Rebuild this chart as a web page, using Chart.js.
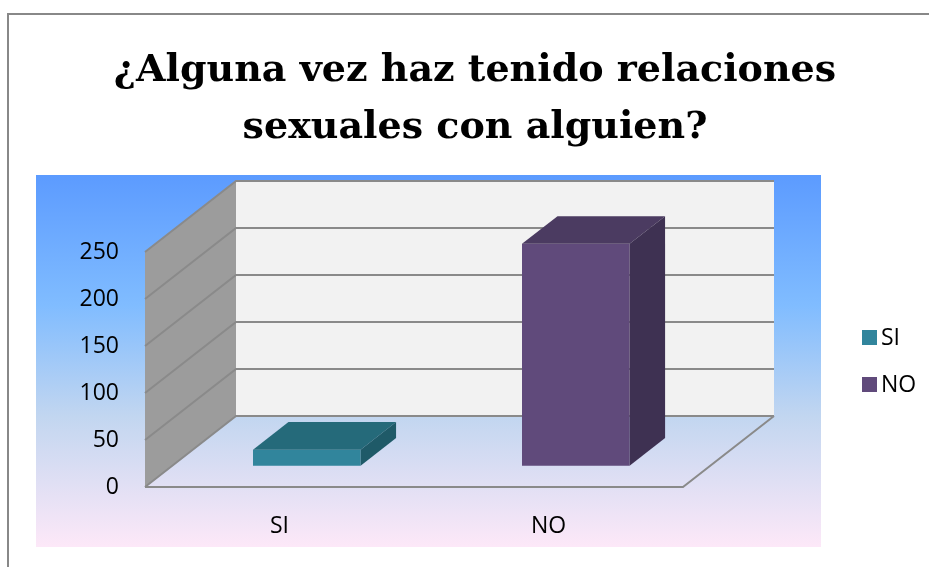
<!DOCTYPE html>
<html>
<head>
<meta charset="utf-8">
<script src="https://cdn.jsdelivr.net/npm/chart.js@4"></script>
<style>
  body { margin: 0; background: #fff; }
  canvas { display: block; }
</style>
</head>
<body>
<canvas id="chart" width="929" height="567"></canvas>
<script>
// data
const categories = ['SI', 'NO'];
const answers = [17, 236];
const yTicks = [0, 50, 100, 150, 200, 250];
const titleLines = ['¿Alguna vez haz tenido relaciones', 'sexuales con alguien?'];

const frontColors = ['#31859c', '#604a7b'];
const topColors = ['#256a7a', '#4b3b61'];
const sideColors = ['#1f5a68', '#3e3152'];

// 3d look: depth vector from front plane to back wall
const depth = { x: 91, y: -71 };
const barFront = 0.3;
const barDepth = 0.39;
const lineGray = '#8a8a8a';

Chart.defaults.font.family = '"Open Sans", sans-serif';
Chart.defaults.font.size = 23;
Chart.defaults.color = '#000';

const datasets = categories.map((cat, i) => ({
  label: cat,
  data: answers.map((v, j) => (j === i ? v : null)),
  backgroundColor: frontColors[i],
  borderWidth: 0,
  grouped: false,
  barPercentage: 0.4,
  categoryPercentage: 1,
  clip: false
}));

const box3d = {
  id: 'box3d',
  beforeDraw(chart) {
    const ctx = chart.ctx;
    ctx.save();
    // outer frame
    ctx.strokeStyle = '#888';
    ctx.lineWidth = 2;
    ctx.beginPath();
    ctx.moveTo(8, 567);
    ctx.lineTo(8, 14);
    ctx.lineTo(929, 14);
    ctx.stroke();
    // plot background gradient
    const g = ctx.createLinearGradient(0, 175, 0, 547);
    g.addColorStop(0, '#5c9bff');
    g.addColorStop(0.35, '#80bcff');
    g.addColorStop(0.65, '#c2d6f0');
    g.addColorStop(1, '#fde8f8');
    ctx.fillStyle = g;
    ctx.fillRect(36, 175, 785, 372);
    ctx.restore();
  },
  beforeDatasetsDraw(chart) {
    const ctx = chart.ctx;
    const y = chart.scales.y;
    const { left: L, right: R } = chart.chartArea;
    const y0 = y.getPixelForValue(0);
    const yTop = y.getPixelForValue(yTicks[yTicks.length - 1]);
    ctx.save();
    // left wall
    ctx.fillStyle = '#9c9c9c';
    ctx.beginPath();
    ctx.moveTo(L, y0);
    ctx.lineTo(L, yTop);
    ctx.lineTo(L + depth.x, yTop + depth.y);
    ctx.lineTo(L + depth.x, y0 + depth.y);
    ctx.closePath();
    ctx.fill();
    // back wall
    ctx.fillStyle = '#f2f2f2';
    ctx.fillRect(L + depth.x, yTop + depth.y, R - L, y0 - yTop);
    // grid lines on both walls
    ctx.strokeStyle = lineGray;
    ctx.lineWidth = 2;
    yTicks.forEach(v => {
      const py = y.getPixelForValue(v);
      ctx.beginPath();
      ctx.moveTo(L, py);
      ctx.lineTo(L + depth.x, py + depth.y);
      ctx.lineTo(R + depth.x, py + depth.y);
      ctx.stroke();
    });
    // floor front edges
    ctx.beginPath();
    ctx.moveTo(L, y0);
    ctx.lineTo(R, y0);
    ctx.lineTo(R + depth.x, y0 + depth.y);
    ctx.stroke();
    ctx.restore();

    // shift bars into the middle of the floor
    ctx.save();
    ctx.translate(depth.x * barFront, depth.y * barFront);
  },
  afterDatasetsDraw(chart) {
    const ctx = chart.ctx;
    const dx = depth.x * barDepth;
    const dy = depth.y * barDepth;
    chart.data.datasets.forEach((ds, i) => {
      chart.getDatasetMeta(i).data.forEach((bar, j) => {
        if (ds.data[j] == null) return;
        const { x, y, base, width } = bar.getProps(['x', 'y', 'base', 'width'], true);
        const l = x - width / 2;
        const r = x + width / 2;
        ctx.fillStyle = topColors[i];
        ctx.beginPath();
        ctx.moveTo(l, y);
        ctx.lineTo(r, y);
        ctx.lineTo(r + dx, y + dy);
        ctx.lineTo(l + dx, y + dy);
        ctx.closePath();
        ctx.fill();
        ctx.fillStyle = sideColors[i];
        ctx.beginPath();
        ctx.moveTo(r, y);
        ctx.lineTo(r + dx, y + dy);
        ctx.lineTo(r + dx, base + dy);
        ctx.lineTo(r, base);
        ctx.closePath();
        ctx.fill();
      });
    });
    ctx.restore();
  },
  afterDraw(chart) {
    const ctx = chart.ctx;
    ctx.save();
    // title
    ctx.fillStyle = '#000';
    ctx.font = 'bold 38px "DejaVu Serif", serif';
    ctx.textAlign = 'center';
    ctx.textBaseline = 'alphabetic';
    ctx.fillText(titleLines[0], 475, 81);
    ctx.fillText(titleLines[1], 475, 138);
    // legend
    ctx.font = '23px "Open Sans", sans-serif';
    ctx.textAlign = 'left';
    ctx.textBaseline = 'middle';
    chart.data.datasets.forEach((ds, i) => {
      const cy = 337 + i * 47;
      ctx.fillStyle = ds.backgroundColor;
      ctx.fillRect(862, cy - 7, 15, 15);
      ctx.fillStyle = '#000';
      ctx.fillText(ds.label, 881, cy + 1);
    });
    ctx.restore();
  }
};

new Chart(document.getElementById('chart'), {
  type: 'bar',
  data: { labels: categories, datasets },
  options: {
    responsive: false,
    animation: false,
    devicePixelRatio: 1,
    layout: { padding: { left: 0, right: 246, top: 252, bottom: 0 } },
    plugins: {
      legend: { display: false },
      title: { display: false },
      tooltip: { enabled: false }
    },
    scales: {
      x: {
        grid: { display: false, drawTicks: false },
        border: { display: false },
        ticks: { padding: 26 },
        afterFit: s => { s.height = 80; }
      },
      y: {
        min: 0,
        max: 250,
        afterBuildTicks: s => { s.ticks = yTicks.map(v => ({ value: v })); },
        grid: { display: false, drawTicks: false },
        border: { display: false },
        ticks: { padding: 26 },
        afterFit: s => { s.width = 145; }
      }
    }
  },
  plugins: [box3d]
});
</script>
</body>
</html>
